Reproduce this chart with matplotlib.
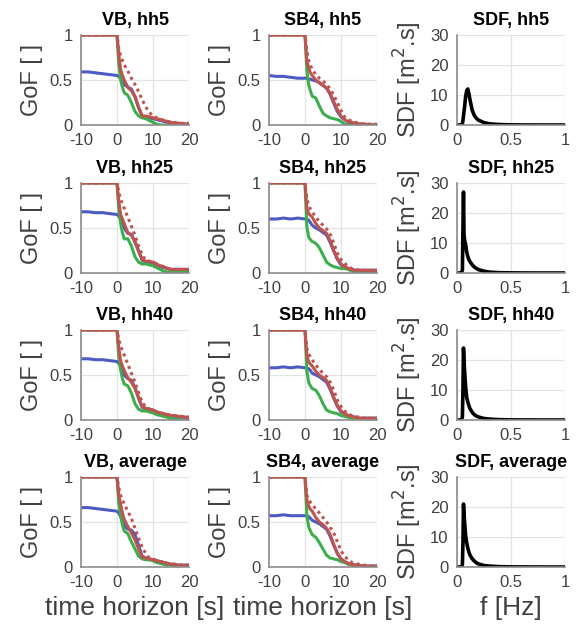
import matplotlib
matplotlib.use("Agg")
import matplotlib.pyplot as plt
import numpy as np

plt.rcParams['font.family'] = ['Liberation Sans', 'DejaVu Sans']
plt.rcParams['axes.unicode_minus'] = False

# time grid (s)
t = [-10, -8, -6, -4, -2, 0, 0.5, 1, 1.5, 2, 3, 4, 5, 6, 7, 8, 9, 10, 11, 12, 13, 14, 15, 16, 17, 18, 19, 20]

# ---------------- VB panels ----------------
vb_hh5_blue  = [0.59, 0.59, 0.58, 0.57, 0.56, 0.55, 0.54, 0.52, 0.48, 0.45, 0.42, 0.40, 0.31, 0.19, 0.10, 0.09, 0.08, 0.07, 0.06, 0.05, 0.04, 0.03, 0.02, 0.02, 0.01, 0.01, 0.01, 0.00]
vb_hh5_red   = [1, 1, 1, 1, 1, 1, 0.78, 0.62, 0.55, 0.50, 0.42, 0.38, 0.32, 0.20, 0.10, 0.10, 0.09, 0.08, 0.07, 0.06, 0.05, 0.04, 0.03, 0.02, 0.02, 0.015, 0.01, 0.01]
vb_hh5_dot   = [1, 1, 1, 1, 1, 1, 0.85, 0.77, 0.72, 0.67, 0.60, 0.52, 0.45, 0.37, 0.28, 0.20, 0.14, 0.10, 0.08, 0.07, 0.05, 0.04, 0.03, 0.03, 0.02, 0.02, 0.02, 0.02]
vb_hh5_green = [1, 1, 1, 1, 1, 1, 0.68, 0.50, 0.42, 0.36, 0.33, 0.25, 0.15, 0.10, 0.08, 0.07, 0.05, 0.03, 0.01, 0.00, 0.00, 0.00, 0.00, 0.00, 0.00, 0.00, 0.00, 0.00]

vb_hh25_blue  = [0.68, 0.68, 0.67, 0.67, 0.66, 0.65, 0.63, 0.60, 0.55, 0.50, 0.44, 0.43, 0.34, 0.24, 0.14, 0.12, 0.12, 0.11, 0.09, 0.07, 0.06, 0.05, 0.04, 0.04, 0.04, 0.04, 0.04, 0.04]
vb_hh25_red   = [1, 1, 1, 1, 1, 1, 0.80, 0.65, 0.60, 0.55, 0.45, 0.42, 0.35, 0.25, 0.15, 0.13, 0.13, 0.12, 0.10, 0.08, 0.07, 0.05, 0.04, 0.04, 0.04, 0.04, 0.04, 0.04]
vb_hh25_dot   = [1, 1, 1, 1, 1, 1, 0.90, 0.82, 0.77, 0.72, 0.62, 0.52, 0.42, 0.30, 0.20, 0.14, 0.13, 0.12, 0.10, 0.08, 0.07, 0.05, 0.04, 0.04, 0.04, 0.04, 0.04, 0.04]
vb_hh25_green = [1, 1, 1, 1, 1, 1, 0.70, 0.55, 0.45, 0.38, 0.38, 0.30, 0.18, 0.12, 0.10, 0.10, 0.09, 0.08, 0.06, 0.04, 0.02, 0.01, 0.01, 0.01, 0.01, 0.01, 0.01, 0.01]

vb_hh40_blue  = [0.68, 0.68, 0.67, 0.67, 0.66, 0.65, 0.63, 0.60, 0.55, 0.50, 0.46, 0.44, 0.36, 0.24, 0.14, 0.12, 0.12, 0.11, 0.09, 0.07, 0.06, 0.05, 0.05, 0.04, 0.04, 0.03, 0.03, 0.03]
vb_hh40_red   = [1, 1, 1, 1, 1, 1, 0.80, 0.66, 0.60, 0.55, 0.47, 0.42, 0.35, 0.25, 0.15, 0.13, 0.12, 0.11, 0.09, 0.08, 0.07, 0.06, 0.05, 0.05, 0.04, 0.04, 0.03, 0.03]
vb_hh40_dot   = [1, 1, 1, 1, 1, 1, 0.90, 0.82, 0.77, 0.72, 0.62, 0.52, 0.42, 0.30, 0.20, 0.14, 0.12, 0.11, 0.09, 0.08, 0.07, 0.06, 0.05, 0.05, 0.04, 0.04, 0.03, 0.03]
vb_hh40_green = [1, 1, 1, 1, 1, 1, 0.70, 0.56, 0.46, 0.40, 0.38, 0.30, 0.18, 0.12, 0.10, 0.10, 0.09, 0.08, 0.06, 0.05, 0.04, 0.03, 0.02, 0.01, 0.01, 0.00, 0.00, 0.00]

vb_avg_blue  = [0.66, 0.66, 0.65, 0.64, 0.63, 0.62, 0.60, 0.56, 0.50, 0.46, 0.42, 0.41, 0.36, 0.24, 0.12, 0.10, 0.09, 0.08, 0.07, 0.06, 0.05, 0.04, 0.03, 0.03, 0.02, 0.02, 0.02, 0.02]
vb_avg_red   = [1, 1, 1, 1, 1, 1, 0.80, 0.70, 0.60, 0.53, 0.45, 0.38, 0.30, 0.20, 0.11, 0.10, 0.09, 0.08, 0.07, 0.06, 0.05, 0.04, 0.03, 0.03, 0.02, 0.02, 0.02, 0.02]
vb_avg_dot   = [1, 1, 1, 1, 1, 1, 0.88, 0.80, 0.75, 0.70, 0.62, 0.54, 0.43, 0.32, 0.22, 0.15, 0.10, 0.09, 0.07, 0.06, 0.05, 0.04, 0.03, 0.03, 0.02, 0.02, 0.02, 0.02]
vb_avg_green = [1, 1, 1, 1, 1, 1, 0.70, 0.58, 0.47, 0.40, 0.37, 0.28, 0.20, 0.12, 0.09, 0.08, 0.08, 0.07, 0.05, 0.04, 0.03, 0.02, 0.02, 0.01, 0.01, 0.01, 0.00, 0.00]

# ---------------- SB4 panels ----------------
sb_hh5_blue  = [0.55, 0.54, 0.54, 0.53, 0.52, 0.52, 0.52, 0.51, 0.51, 0.50, 0.49, 0.47, 0.44, 0.41, 0.34, 0.24, 0.15, 0.09, 0.06, 0.03, 0.02, 0.01, 0.01, 0.01, 0.00, 0.00, 0.00, 0.00]
sb_hh5_red   = [1, 1, 1, 1, 1, 1, 0.72, 0.64, 0.58, 0.55, 0.50, 0.47, 0.44, 0.41, 0.35, 0.26, 0.17, 0.10, 0.06, 0.04, 0.03, 0.02, 0.01, 0.01, 0.01, 0.00, 0.00, 0.00]
sb_hh5_dot   = [1, 1, 1, 1, 1, 1, 0.83, 0.72, 0.66, 0.62, 0.56, 0.52, 0.49, 0.45, 0.40, 0.33, 0.25, 0.16, 0.09, 0.06, 0.04, 0.03, 0.02, 0.01, 0.01, 0.01, 0.01, 0.01]
sb_hh5_green = [1, 1, 1, 1, 1, 1, 0.62, 0.45, 0.38, 0.32, 0.30, 0.21, 0.13, 0.10, 0.08, 0.07, 0.06, 0.04, 0.01, 0.00, 0.00, 0.00, 0.00, 0.00, 0.00, 0.00, 0.00, 0.00]

sb_hh25_blue  = [0.60, 0.60, 0.61, 0.60, 0.61, 0.60, 0.60, 0.59, 0.56, 0.53, 0.50, 0.48, 0.45, 0.42, 0.34, 0.24, 0.15, 0.09, 0.07, 0.05, 0.04, 0.03, 0.03, 0.03, 0.03, 0.03, 0.03, 0.03]
sb_hh25_red   = [1, 1, 1, 1, 1, 1, 0.72, 0.66, 0.64, 0.62, 0.55, 0.50, 0.47, 0.44, 0.36, 0.25, 0.16, 0.10, 0.07, 0.05, 0.04, 0.03, 0.03, 0.03, 0.03, 0.03, 0.03, 0.03]
sb_hh25_dot   = [1, 1, 1, 1, 1, 1, 0.82, 0.76, 0.71, 0.68, 0.62, 0.57, 0.53, 0.49, 0.43, 0.33, 0.22, 0.15, 0.11, 0.07, 0.05, 0.04, 0.03, 0.03, 0.03, 0.03, 0.03, 0.03]
sb_hh25_green = [1, 1, 1, 1, 1, 1, 0.52, 0.40, 0.37, 0.35, 0.33, 0.28, 0.20, 0.12, 0.09, 0.07, 0.06, 0.05, 0.05, 0.04, 0.02, 0.01, 0.01, 0.00, 0.00, 0.00, 0.00, 0.00]

sb_hh40_blue  = [0.58, 0.58, 0.59, 0.58, 0.59, 0.58, 0.58, 0.57, 0.55, 0.52, 0.50, 0.48, 0.45, 0.42, 0.34, 0.24, 0.15, 0.09, 0.07, 0.05, 0.04, 0.03, 0.02, 0.02, 0.02, 0.02, 0.02, 0.02]
sb_hh40_red   = [1, 1, 1, 1, 1, 1, 0.72, 0.65, 0.62, 0.60, 0.54, 0.50, 0.47, 0.44, 0.36, 0.25, 0.16, 0.10, 0.07, 0.05, 0.04, 0.03, 0.02, 0.02, 0.02, 0.02, 0.02, 0.02]
sb_hh40_dot   = [1, 1, 1, 1, 1, 1, 0.80, 0.74, 0.70, 0.67, 0.61, 0.56, 0.52, 0.48, 0.42, 0.33, 0.22, 0.15, 0.10, 0.07, 0.05, 0.04, 0.03, 0.02, 0.02, 0.02, 0.02, 0.02]
sb_hh40_green = [1, 1, 1, 1, 1, 1, 0.55, 0.42, 0.38, 0.35, 0.33, 0.27, 0.18, 0.11, 0.09, 0.08, 0.07, 0.05, 0.04, 0.03, 0.02, 0.01, 0.01, 0.00, 0.00, 0.00, 0.00, 0.00]

sb_avg_blue  = [0.57, 0.57, 0.58, 0.57, 0.57, 0.57, 0.57, 0.56, 0.54, 0.52, 0.50, 0.48, 0.45, 0.42, 0.34, 0.24, 0.15, 0.09, 0.06, 0.04, 0.03, 0.02, 0.02, 0.01, 0.01, 0.01, 0.01, 0.01]
sb_avg_red   = [1, 1, 1, 1, 1, 1, 0.75, 0.68, 0.64, 0.62, 0.55, 0.50, 0.47, 0.43, 0.36, 0.25, 0.15, 0.09, 0.06, 0.04, 0.03, 0.02, 0.02, 0.01, 0.01, 0.01, 0.01, 0.01]
sb_avg_dot   = [1, 1, 1, 1, 1, 1, 0.80, 0.75, 0.72, 0.70, 0.64, 0.60, 0.55, 0.50, 0.44, 0.38, 0.28, 0.18, 0.12, 0.08, 0.05, 0.04, 0.03, 0.02, 0.02, 0.01, 0.01, 0.01]
sb_avg_green = [1, 1, 1, 1, 1, 1, 0.58, 0.45, 0.40, 0.36, 0.33, 0.27, 0.20, 0.13, 0.10, 0.09, 0.08, 0.06, 0.05, 0.03, 0.02, 0.01, 0.01, 0.00, 0.00, 0.00, 0.00, 0.00]

# ---------------- SDF panels ----------------
f = [0, 0.02, 0.04, 0.05, 0.055, 0.06, 0.065, 0.07, 0.08, 0.09, 0.10, 0.11, 0.12, 0.14, 0.16, 0.18, 0.20, 0.25, 0.30, 0.35, 0.40, 0.50, 0.60, 0.80, 1.0]
sdf_hh5  = [0, 0, 0, 0.5, 1.5, 3.0, 4.5, 6.0, 9.5, 11.5, 12.0, 10.5, 8.5, 5.0, 3.2, 2.2, 1.6, 0.8, 0.4, 0.25, 0.15, 0.05, 0.02, 0.0, 0.0]
sdf_hh25 = [0, 0, 0, 1.0, 15.0, 27.0, 13.0, 11.0, 9.5, 7.0, 5.5, 4.5, 3.8, 2.8, 2.0, 1.5, 1.1, 0.6, 0.3, 0.2, 0.1, 0.05, 0.02, 0.0, 0.0]
sdf_hh40 = [0, 0, 0, 1.0, 10.0, 24.0, 20.0, 16.5, 11.0, 7.5, 6.0, 4.8, 3.8, 2.6, 1.8, 1.3, 1.0, 0.5, 0.3, 0.2, 0.1, 0.05, 0.02, 0.0, 0.0]
sdf_avg  = [0, 0, 0, 0.8, 8.0, 21.0, 18.0, 15.0, 10.5, 8.0, 6.3, 5.0, 4.0, 2.8, 2.0, 1.4, 1.0, 0.5, 0.3, 0.2, 0.1, 0.05, 0.02, 0.0, 0.0]

row_names = ['hh5', 'hh25', 'hh40', 'average']
vb_panels = [
    (vb_hh5_blue, vb_hh5_green, vb_hh5_dot, vb_hh5_red),
    (vb_hh25_blue, vb_hh25_green, vb_hh25_dot, vb_hh25_red),
    (vb_hh40_blue, vb_hh40_green, vb_hh40_dot, vb_hh40_red),
    (vb_avg_blue, vb_avg_green, vb_avg_dot, vb_avg_red),
]
sb_panels = [
    (sb_hh5_blue, sb_hh5_green, sb_hh5_dot, sb_hh5_red),
    (sb_hh25_blue, sb_hh25_green, sb_hh25_dot, sb_hh25_red),
    (sb_hh40_blue, sb_hh40_green, sb_hh40_dot, sb_hh40_red),
    (sb_avg_blue, sb_avg_green, sb_avg_dot, sb_avg_red),
]
sdf_panels = [sdf_hh5, sdf_hh25, sdf_hh40, sdf_avg]

C_BLUE = '#4B5BC4'
C_GREEN = '#3DAE4C'
C_RED = '#BE5450'
AX_COL = '#8C8C8C'
TXT_COL = '#404040'
GRID_COL = '#E3E3E3'

W, H = 582, 630
fig = plt.figure(figsize=(W / 100, H / 100), dpi=100)

col_left = [81, 269, 457]
col_w = 108
row_top = [35, 183, 330, 477]
row_h = 90


def style(ax):
    for s in ['top', 'right']:
        ax.spines[s].set_visible(False)
    for s in ['left', 'bottom']:
        ax.spines[s].set_color(AX_COL)
        ax.spines[s].set_linewidth(1.2)
    ax.grid(True, color=GRID_COL, linewidth=0.9)
    ax.set_axisbelow(True)
    ax.tick_params(axis='both', which='both', length=0, labelsize=12, colors=TXT_COL, pad=6)


for r in range(4):
    for c in range(3):
        ax = fig.add_axes([col_left[c] / W, 1 - (row_top[r] + row_h) / H, col_w / W, row_h / H])
        style(ax)
        if c < 2:
            blue, green, dot, red = (vb_panels if c == 0 else sb_panels)[r]
            ax.plot(t, blue, color=C_BLUE, lw=2.2, solid_capstyle='butt')
            ax.plot(t, green, color=C_GREEN, lw=2.2)
            ax.plot(t, dot, color=C_RED, lw=2.2, linestyle=(0, (1, 1.2)))
            ax.plot(t, red, color=C_RED, lw=2.2)
            ax.set_xlim(-10, 20)
            ax.set_ylim(0, 1)
            ax.set_xticks([-10, 0, 10, 20])
            ax.set_yticks([0, 0.5, 1])
            ax.set_yticklabels(['0', '0.5', '1'])
            ax.set_ylabel('GoF [ ]', fontsize=17, color=TXT_COL, labelpad=5)
            name = 'VB' if c == 0 else 'SB4'
            ax.set_title(f'{name}, {row_names[r]}', fontsize=13, fontweight='bold', pad=7)
            if r == 3:
                ax.set_xlabel('time horizon [s]', fontsize=19, color=TXT_COL, labelpad=4)
        else:
            ax.plot(f, sdf_panels[r], color='black', lw=2.6)
            ax.set_xlim(0, 1)
            ax.set_ylim(0, 30)
            ax.set_xticks([0, 0.5, 1])
            ax.set_xticklabels(['0', '0.5', '1'])
            ax.set_yticks([0, 10, 20, 30])
            ax.set_ylabel('SDF [m$^2$.s]', fontsize=17, color=TXT_COL, labelpad=4)
            ax.set_title(f'SDF, {row_names[r]}', fontsize=13, fontweight='bold', pad=7)
            if r == 3:
                ax.set_xlabel('f [Hz]', fontsize=19, color=TXT_COL, labelpad=4)

fig.savefig('out.png', dpi=100, facecolor='white')
